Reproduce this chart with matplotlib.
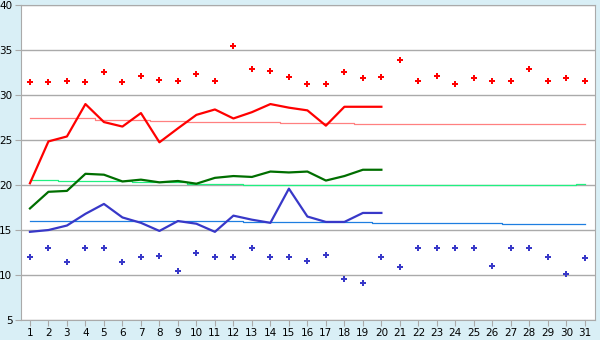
import matplotlib
matplotlib.use('Agg')
import matplotlib.pyplot as plt

days = list(range(1, 32))
line_days = list(range(1, 21))

# daily max / min (points)
max_pts = [31.5, 31.4, 31.6, 31.4, 32.6, 31.4, 32.1, 31.7, 31.6, 32.3,
           31.6, 35.4, 32.9, 32.7, 32.0, 31.2, 31.2, 32.6, 31.9, 32.0,
           33.85, 31.6, 32.1, 31.2, 31.9, 31.6, 31.6, 32.9, 31.6, 31.9, 31.6]
min_pts = [12.0, 13.0, 11.4, 13.0, 13.0, 11.4, 12.0, 12.1, 10.4, 12.5,
           12.0, 12.0, 13.0, 12.0, 12.0, 11.6, 12.2, 9.6, 9.1, 12.0,
           10.85, 13.0, 13.0, 13.0, 13.0, 11.0, 13.0, 13.0, 12.0, 10.1, 11.9]

# this month's curves (days 1-20)
red_line = [20.2, 24.85, 25.4, 29.0, 27.0, 26.5, 28.0, 24.75, 26.3, 27.8,
            28.4, 27.4, 28.1, 29.0, 28.6, 28.3, 26.6, 28.7, 28.7, 28.7]
green_line = [17.4, 19.25, 19.35, 21.25, 21.15, 20.4, 20.6, 20.3, 20.45, 20.15,
              20.8, 21.0, 20.9, 21.5, 21.4, 21.5, 20.5, 21.0, 21.7, 21.7]
blue_line = [14.8, 15.0, 15.5, 16.8, 17.9, 16.4, 15.8, 14.9, 16.0, 15.7,
             14.8, 16.6, 16.15, 15.8, 19.6, 16.5, 15.9, 15.9, 16.9, 16.9]

# long-term averages (stepped)
avg_max = [27.5, 27.4, 27.4, 27.4, 27.2, 27.2, 27.2, 27.1, 27.1, 27.0,
           27.0, 27.0, 27.0, 27.0, 26.85, 26.85, 26.85, 26.85, 26.75, 26.75,
           26.75, 26.75, 26.75, 26.75, 26.75, 26.75, 26.75, 26.75, 26.75, 26.75, 26.75]
avg_mean = [20.6, 20.6, 20.5, 20.5, 20.4, 20.4, 20.3, 20.3, 20.3, 20.15,
            20.15, 20.15, 20.0, 20.0, 20.0, 20.0, 20.0, 20.0, 20.0, 20.0,
            20.0, 20.0, 20.0, 20.0, 20.0, 20.0, 20.0, 20.0, 20.0, 20.0, 20.08]
avg_min = [15.97, 15.97, 15.97, 15.97, 15.97, 15.97, 15.97, 15.97, 15.97, 15.97,
           15.97, 15.97, 15.85, 15.85, 15.85, 15.85, 15.85, 15.85, 15.85, 15.75,
           15.75, 15.75, 15.75, 15.75, 15.75, 15.75, 15.63, 15.63, 15.63, 15.63, 15.63]

fig = plt.figure(figsize=(6, 3.4), dpi=100, facecolor='#d9eff6')
ax = fig.add_axes([0.0345, 0.0588, 0.9572, 0.9262])
ax.set_facecolor('white')

ax.plot(days, avg_max, drawstyle='steps-mid', color='#ff8080', lw=0.9)
ax.plot(days, avg_mean, drawstyle='steps-mid', color='#20f080', lw=0.9)
ax.plot(days, avg_min, drawstyle='steps-mid', color='#1e7ee0', lw=0.9)

ax.plot(line_days, red_line, color='#ff0000', lw=1.6)
ax.plot(line_days, green_line, color='#006e00', lw=1.6)
ax.plot(line_days, blue_line, color='#3838c8', lw=1.6)

ax.plot(days, max_pts, 'P', color='#ff0000', ms=5, mew=0, ls='none')
ax.plot(days, min_pts, 'P', color='#3838c8', ms=5, mew=0, ls='none')

ax.set_xlim(0.5, 31.55)
ax.set_ylim(5, 40)
ax.set_xticks(days)
ax.set_yticks(range(5, 41, 5))
ax.yaxis.grid(True, color='#aaaaaa', lw=1)
ax.set_axisbelow(True)
for s in ['left', 'bottom', 'right', 'top']:
    ax.spines[s].set_color('#aaaaaa')
ax.tick_params(axis='both', labelsize=7.5, colors='#aaaaaa', labelcolor='black',
               length=4, pad=2)

fig.savefig('out.png', dpi=100, facecolor=fig.get_facecolor())
